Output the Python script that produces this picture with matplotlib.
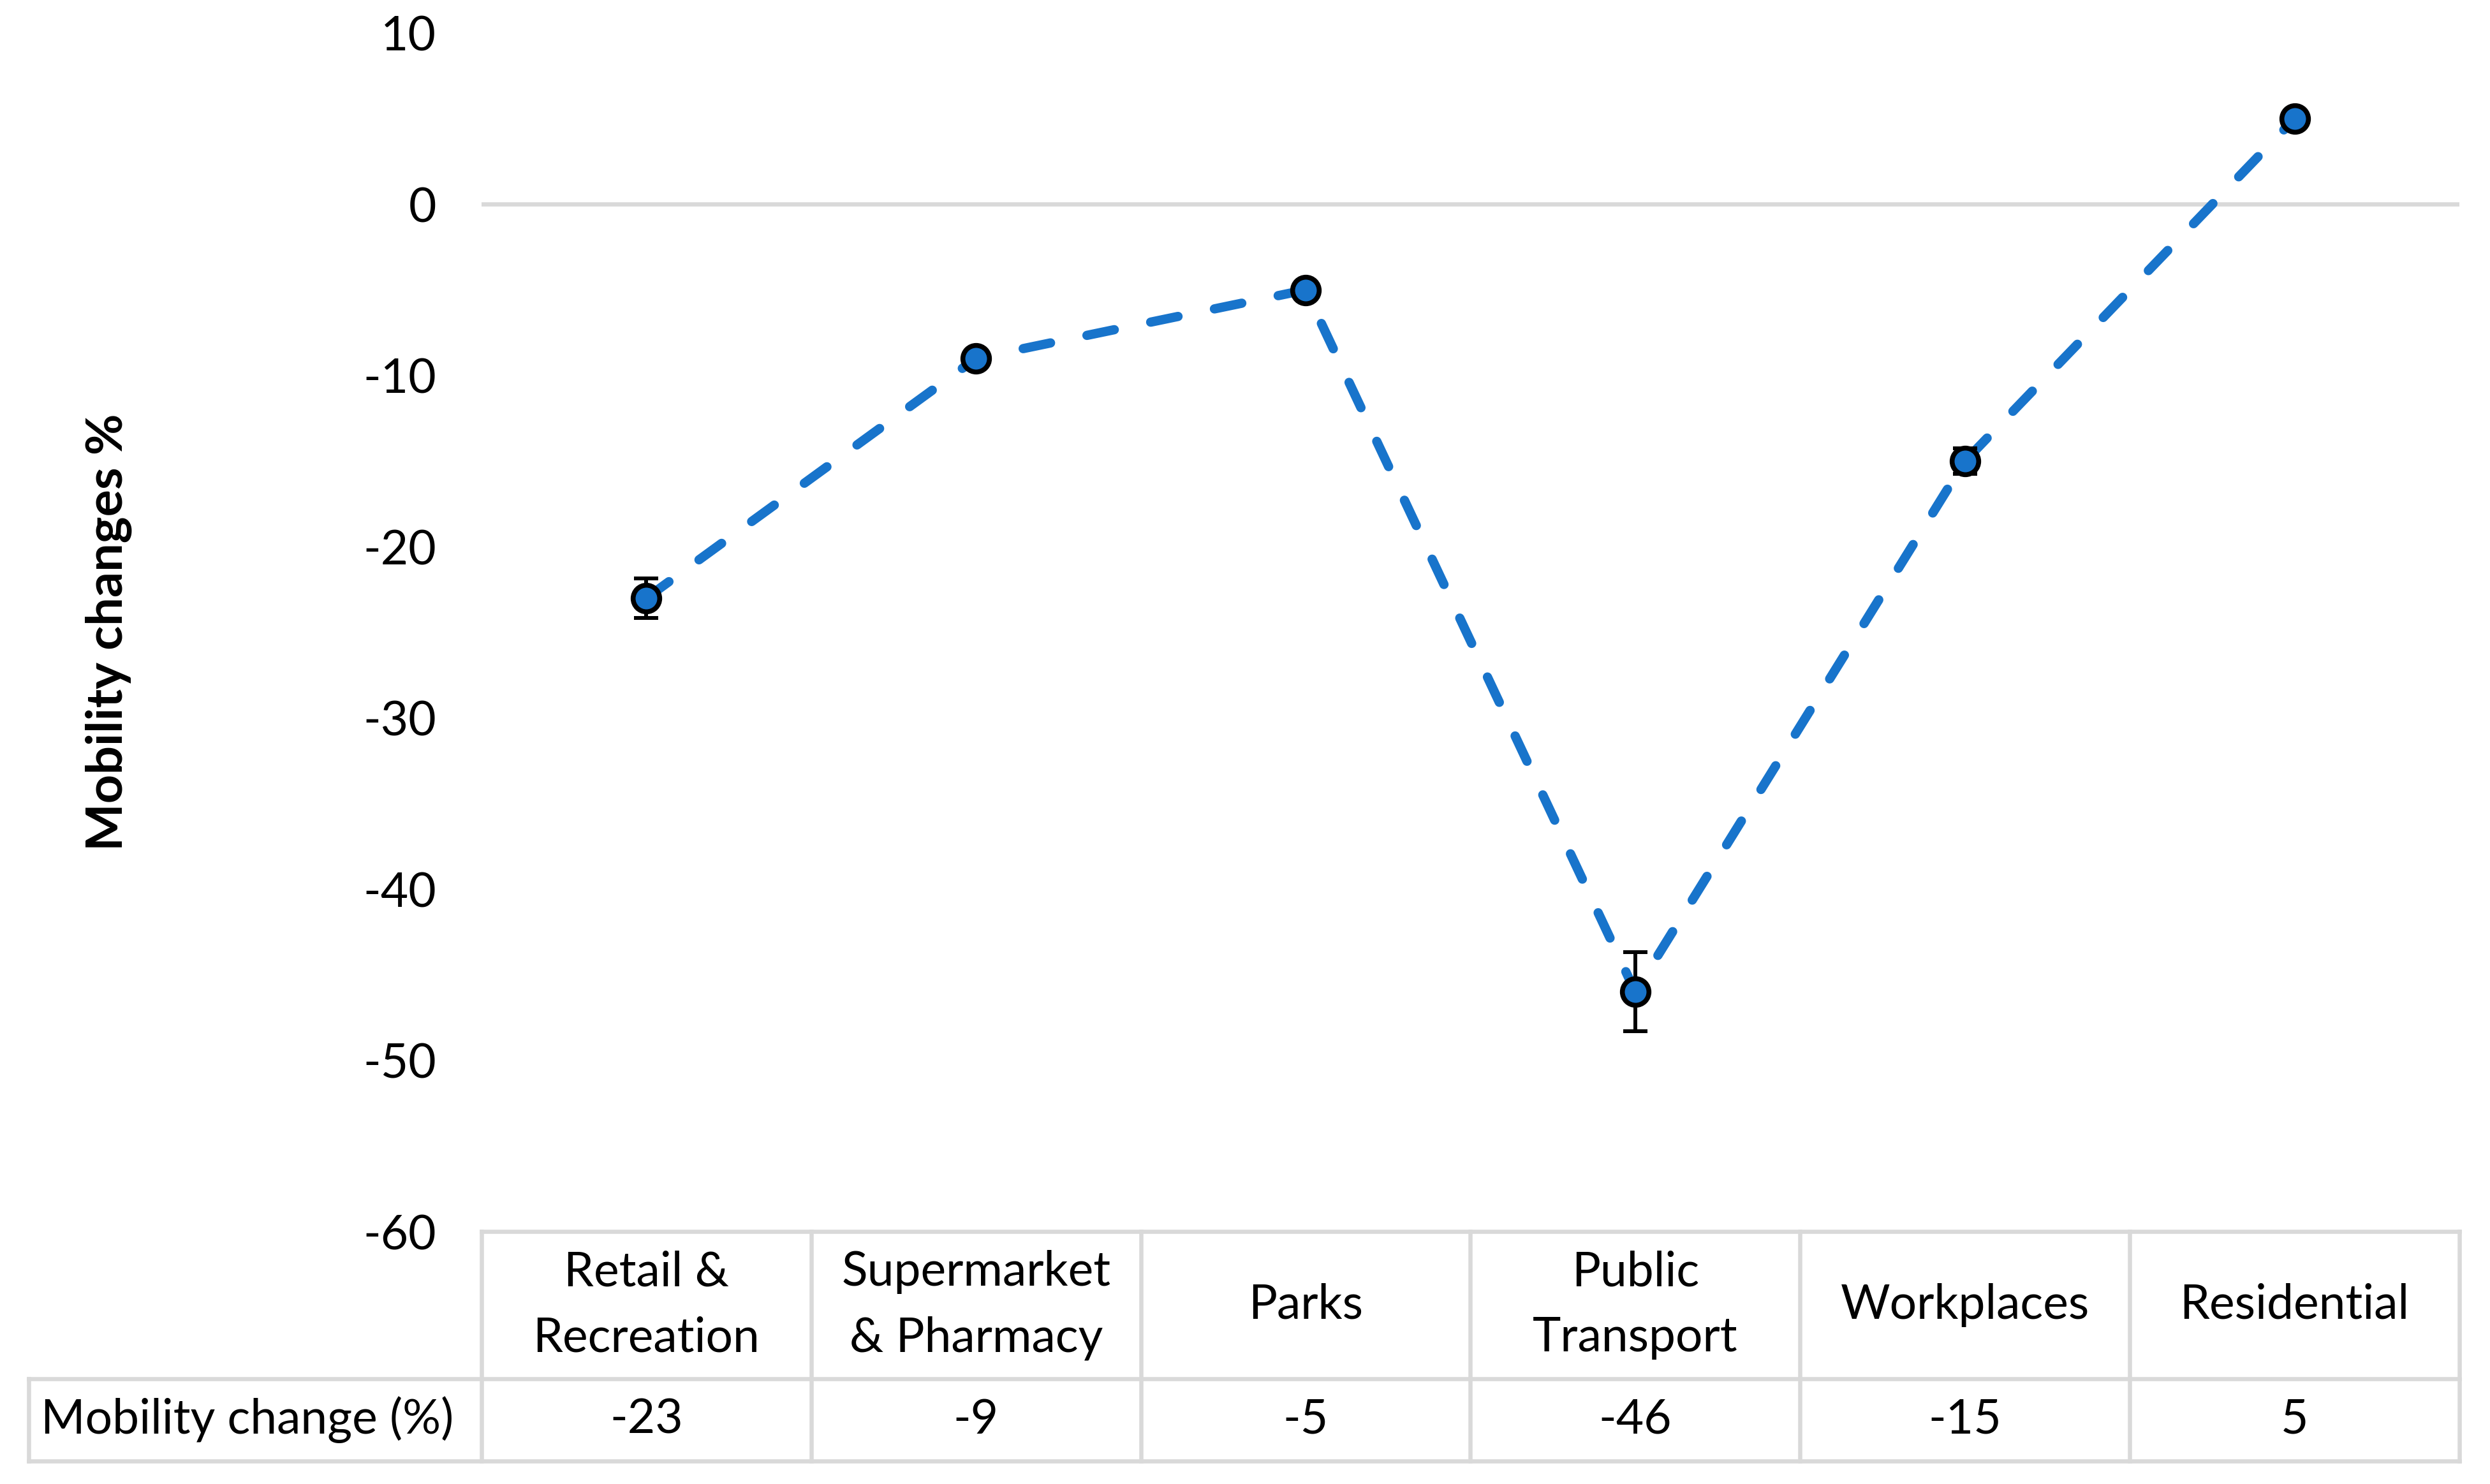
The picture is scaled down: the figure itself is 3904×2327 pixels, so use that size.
import matplotlib
matplotlib.use('Agg')
import matplotlib.pyplot as plt
from matplotlib.transforms import blended_transform_factory

# ---------------- data ----------------
categories = ['Retail &\nRecreation', 'Supermarket\n& Pharmacy', 'Parks',
              'Public\nTransport', 'Workplaces', 'Residential']
mobility_change = [-23, -9, -5, -46, -15, 5]
error = [1.15, 0, 0, 2.3, 0.75, 0]
yticks = [10, 0, -10, -20, -30, -40, -50, -60]
row_label = 'Mobility change (%)'
ylabel = 'Mobility changes %'

# ---------------- style ----------------
plt.rcParams['font.family'] = ['Lato', 'DejaVu Sans']
FS = 54
BLUE = '#1874CB'
GRID = '#D9D9D9'

W, H = 3905, 2327
fig = plt.figure(figsize=(W / 100, H / 100), dpi=100)
ax_left, ax_right, ax_top, ax_bot = 755, 3856, 52, 1931
ax = fig.add_axes([ax_left / W, 1 - ax_bot / H, (ax_right - ax_left) / W, (ax_bot - ax_top) / H])

x = list(range(len(categories)))
ax.set_xlim(-0.5, len(categories) - 0.5)
ax.set_ylim(-60, 10)
for s in ax.spines.values():
    s.set_visible(False)
ax.set_xticks([])
ax.set_yticks(yticks)
ax.set_yticklabels([str(t) for t in yticks])
ax.tick_params(axis='y', length=0, pad=51, labelsize=FS)
ax.axhline(0, color=GRID, lw=4.8, zorder=1)

# dashed line
ax.plot(x, mobility_change, color=BLUE, lw=10.5, ls=(0, (3.0, 4.0)),
        dash_capstyle='round', zorder=2)
# error bars
ax.errorbar(x, mobility_change, yerr=error, fmt='none', ecolor='black',
            elinewidth=4.3, capsize=14, capthick=4.3, zorder=3)
# markers
ax.plot(x, mobility_change, 'o', ms=30, mfc=BLUE, mec='black', mew=5.5,
        ls='none', zorder=4)

fig.text(170 / W, 1 - ((ax_top + ax_bot) / 2) / H, ylabel, rotation=90,
         ha='center', va='center', fontsize=57, fontweight='bold')

# ---------------- data table ----------------
col_px = (ax_right - ax_left) / len(categories)
ax_h = ax_bot - ax_top
tr = blended_transform_factory(ax.transData, ax.transAxes)
y_mid = -(2162 - ax_bot) / ax_h
y_low = -(2291 - ax_bot) / ax_h
x_lab = -0.5 - (ax_left - 45) / col_px
lkw = dict(color=GRID, lw=4.7, transform=tr, clip_on=False, solid_capstyle='projecting')

ax.plot([-0.5, len(categories) - 0.5], [0, 0], **lkw)
ax.plot([x_lab, len(categories) - 0.5], [y_mid, y_mid], **lkw)
ax.plot([x_lab, len(categories) - 0.5], [y_low, y_low], **lkw)
for i in range(len(categories) + 1):
    ax.plot([i - 0.5, i - 0.5], [0, y_low], **lkw)
ax.plot([x_lab, x_lab], [y_mid, y_low], **lkw)

for i, (c, v) in enumerate(zip(categories, mobility_change)):
    ax.text(i, y_mid / 2, c, transform=tr, ha='center', va='center',
            fontsize=FS, linespacing=1.6, clip_on=False)
    ax.text(i, (y_mid + y_low) / 2, str(v), transform=tr, ha='center',
            va='center', fontsize=FS, clip_on=False)
ax.text(-0.5 - (ax_left - 64) / col_px, (y_mid + y_low) / 2, row_label,
        transform=tr, ha='left', va='center', fontsize=FS, clip_on=False)

fig.savefig('out.png', dpi=100)
